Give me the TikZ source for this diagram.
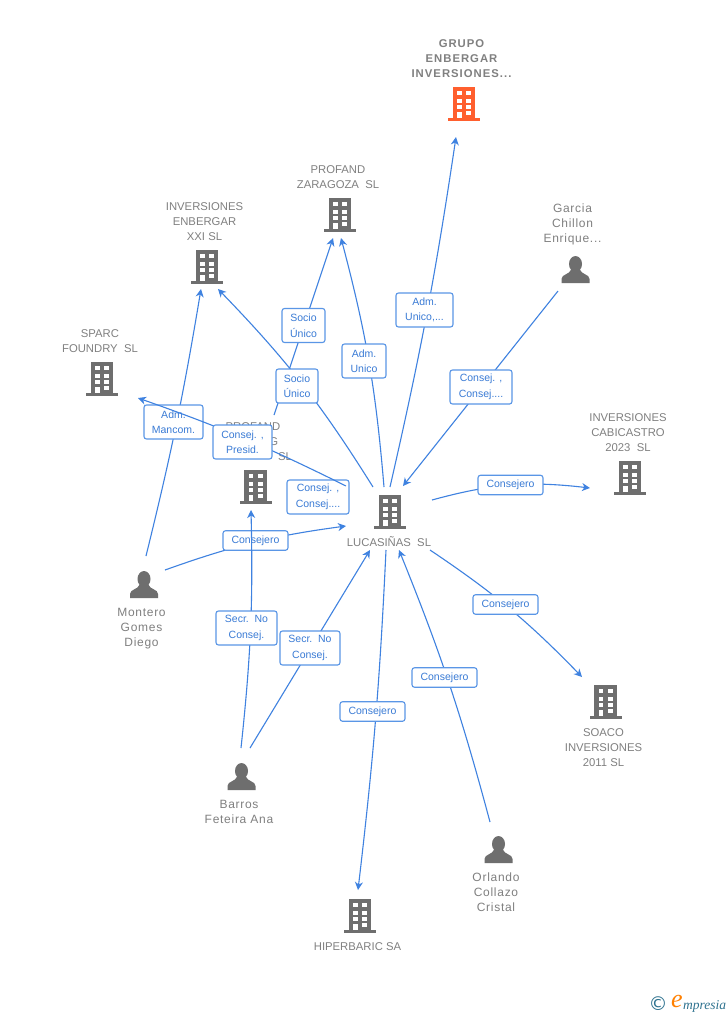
\documentclass[tikz,border=0pt]{standalone}
\usepackage{fontspec}
\setmainfont{Liberation Sans}
\newfontfamily\logofont{Liberation Serif}
\newfontfamily\symbolfont{DejaVu Sans}
\usetikzlibrary{arrows.meta,positioning}
\definecolor{linkblue}{HTML}{3F82E0}
\definecolor{boxblue}{HTML}{5A96E6}
\definecolor{textblue}{HTML}{3A7BD5}
\definecolor{entitygray}{HTML}{808080}
\definecolor{icongray}{HTML}{6E6E6E}
\definecolor{mainorange}{HTML}{FF5F2E}
\definecolor{logoteal}{HTML}{2F7390}
\tikzset{
	link/.style={draw=linkblue, line width=1.1pt, -{Stealth[length=8pt,width=8pt,inset=2.5pt]}},
	role/.style={draw=boxblue, line width=1.1pt, fill=white, rounded corners=2.5pt, inner sep=0pt, minimum height=19.5pt, text=textblue, align=center, font=\fontsize{10.5}{15.5}\selectfont},
	entity/.style={text=entitygray, align=center, inner sep=0pt, font=\fontsize{11.3}{15}\selectfont},
	human/.style={text=entitygray, align=center, inner sep=0pt, font=\fontsize{12}{15}\selectfont\addfontfeature{LetterSpace=6}},
	building/.pic={
		\fill (-11.2,-17) rectangle (11.2,15);
		\fill (-16,14) rectangle (16,17);
		\foreach \y in {-12.7,-5.3,1.3}
			\foreach \x in {-7,2.4}
				\fill[white] (\x,\y) rectangle ++(4.6,4);
		\fill[white] (2.4,7.3) rectangle ++(4.6,4);
		\fill[white] (-7,8) rectangle ++(4.6,6);
	},
	person/.pic={
		\fill (0,8) ellipse (6.5 and 8);
		\fill (-14,27) -- (-14,23) .. controls (-14,18) and (-6,19) .. (-4,13) -- (4,13) .. controls (6,19) and (14,18) .. (14,23) -- (14,27) -- cycle;
	}
}
\begin{document}
\begin{tikzpicture}[x=1pt,y=-1pt]
	\useasboundingbox[fill=white] (0,0) rectangle (728,1015);
	% icons
	\pic[mainorange] at (464,104) {building};
	\foreach \x/\y in {340/215,207/267,102/379,255.5/487,390/512,630/478,605.5/702,360/916}
		\pic[icongray] at (\x,\y) {building};
	\foreach \x/\y in {575.5/256,144/571,241.5/763,498.5/836}
		\pic[icongray] at (\x,\y) {person};
	% names
	\node[entity, font=\fontsize{11.3}{15}\selectfont\bfseries\addfontfeature{LetterSpace=9}] (grupo) at (461.5,59) {GRUPO\\ENBERGAR\\INVERSIONES...};
	\node[entity] (zaragoza) at (338,177.5) {PROFAND\\ZARAGOZA\ \ SL};
	\node[entity] (enbergar) at (204.5,222) {INVERSIONES\\ENBERGAR\\XXI SL};
	\node[entity] (sparc) at (100,341.5) {SPARC\\FOUNDRY\ \ SL};
	\node[entity] (profand) at (253,442) {PROFAND\\\phantom{CASTIN}G\\\phantom{CASTINGS\ \ }SL};
	\node[entity] (cabicastro) at (628,433) {INVERSIONES\\CABICASTRO\\2023\ \ SL};
	\node[entity] (soaco) at (603.5,748) {SOACO\\INVERSIONES\\2011 SL};
	\node[entity] (hiperbaric) at (357.5,947) {HIPERBARIC SA};
	\node[entity] (lucasinas) at (389,541.5) {LUCASIÑAS\ \ SL};
	\node[human] (garcia) at (572.5,224.5) {Garcia\\Chillon\\Enrique...};
	\node[human] (montero) at (141.5,628.5) {Montero\\Gomes\\Diego};
	\node[human] (barros) at (239,811.5) {Barros\\Feteira Ana};
	\node[human] (orlando) at (496,892.5) {Orlando\\Collazo\\Cristal};
	% connector ends
	\coordinate (lucN1) at (390,487);
	\coordinate (lucN2) at (403,486);
	\coordinate (lucN3) at (373,487);
	\coordinate (lucN4) at (384,487);
	\coordinate (lucNW) at (346,486);
	\coordinate (lucW) at (346,526);
	\coordinate (lucE) at (432,500);
	\coordinate (lucSE) at (430,550);
	\coordinate (lucS1) at (399,550);
	\coordinate (lucS2) at (386,550);
	\coordinate (lucS3) at (370,550);
	\coordinate (grupoIn) at (456,137);
	\coordinate (zaraIn1) at (333,238);
	\coordinate (zaraIn2) at (341,238);
	\coordinate (enberIn1) at (201,289);
	\coordinate (enberIn2) at (218,289);
	\coordinate (sparcIn) at (138,398);
	\coordinate (profIn) at (251,510);
	\coordinate (profOut) at (274,415);
	\coordinate (cabiIn) at (590,488);
	\coordinate (soacoIn) at (582,677);
	\coordinate (hiperIn) at (358,890);
	\coordinate (garciaOut) at (558,291);
	\coordinate (monteroA) at (146,556);
	\coordinate (monteroB) at (165,570);
	\coordinate (barrosA) at (241,748);
	\coordinate (barrosB) at (250,748);
	\coordinate (orlandoOut) at (490,822);
	% connectors and roles
	\draw[link] (monteroA) to[bend right=2.2] (enberIn1);
	\node[role, minimum width=59pt, minimum height=34pt] (mancom) at (173.5,422) {Adm.\\Mancom.};
	\node[role, minimum width=62pt, minimum height=34pt] (consejB) at (318,497) {Consej. ,\\Consej....};
	\draw[link] (lucNW) to[bend right=3.5] (sparcIn);
	\node[role, minimum width=59pt, minimum height=34pt] (presid) at (242.5,442) {Consej. ,\\Presid.};
	\draw[link] (monteroB) to[bend left=6] (lucW);
	\node[role, minimum width=65pt] (consejeroA) at (255.5,540.5) {Consejero};
	\draw[link] (barrosA) to[bend right=3.7] (profIn);
	\node[role, minimum width=61pt, minimum height=34pt] (secrA) at (246.5,628) {Secr.\ \ No\\Consej.};
	\draw[link] (barrosB) -- (lucS3);
	\node[role, minimum width=60pt, minimum height=34pt] (secrB) at (310,648) {Secr.\ \ No\\Consej.};
	\draw[link] (profOut) -- (zaraIn1);
	\node[role, minimum width=43pt, minimum height=34pt] (socioA) at (303.5,325.5) {Socio\\Único};
	\draw[link] (lucN3) to[bend right=6] (enberIn2);
	\node[role, minimum width=42pt, minimum height=34pt] (socioB) at (297,386) {Socio\\Único};
	\draw[link] (lucN4) to[bend right=5] (zaraIn2);
	\node[role, minimum width=44pt, minimum height=34pt] (admA) at (364,361) {Adm.\\Unico};
	\draw[link] (lucN1) to[bend right=2.2] (grupoIn);
	\node[role, minimum width=57pt, minimum height=34pt] (admB) at (424.5,310) {Adm.\\Unico,...};
	\draw[link] (garciaOut) -- (lucN2);
	\node[role, minimum width=62pt, minimum height=34pt] (consejA) at (481,387) {Consej. ,\\Consej....};
	\draw[link] (lucE) to[bend left=11] (cabiIn);
	\node[role, minimum width=65pt] (consejeroB) at (510.5,485) {Consejero};
	\draw[link] (lucSE) to[bend left=6] (soacoIn);
	\node[role, minimum width=65pt] (consejeroC) at (505.5,604.5) {Consejero};
	\draw[link] (orlandoOut) to[bend right=3.5] (lucS1);
	\node[role, minimum width=65pt] (consejeroD) at (444.5,677.5) {Consejero};
	\draw[link] (lucS2) to[bend left=2] (hiperIn);
	\node[role, minimum width=65pt] (consejeroE) at (372.5,711.5) {Consejero};
	% logo
	\node[inner sep=0pt, text=logoteal, font=\symbolfont\fontsize{19}{19}\selectfont] (copyr) at (658,1004) {©};
	\node[inner sep=0pt, text=orange, font=\logofont\itshape\fontsize{26}{26}\selectfont] (logoe) at (677,1001) {e};
	\node[inner sep=0pt, anchor=west, text=logoteal, font=\logofont\itshape\fontsize{13.5}{14}\selectfont] (logotext) at (683,1006) {mpresia};
\end{tikzpicture}
\end{document}
